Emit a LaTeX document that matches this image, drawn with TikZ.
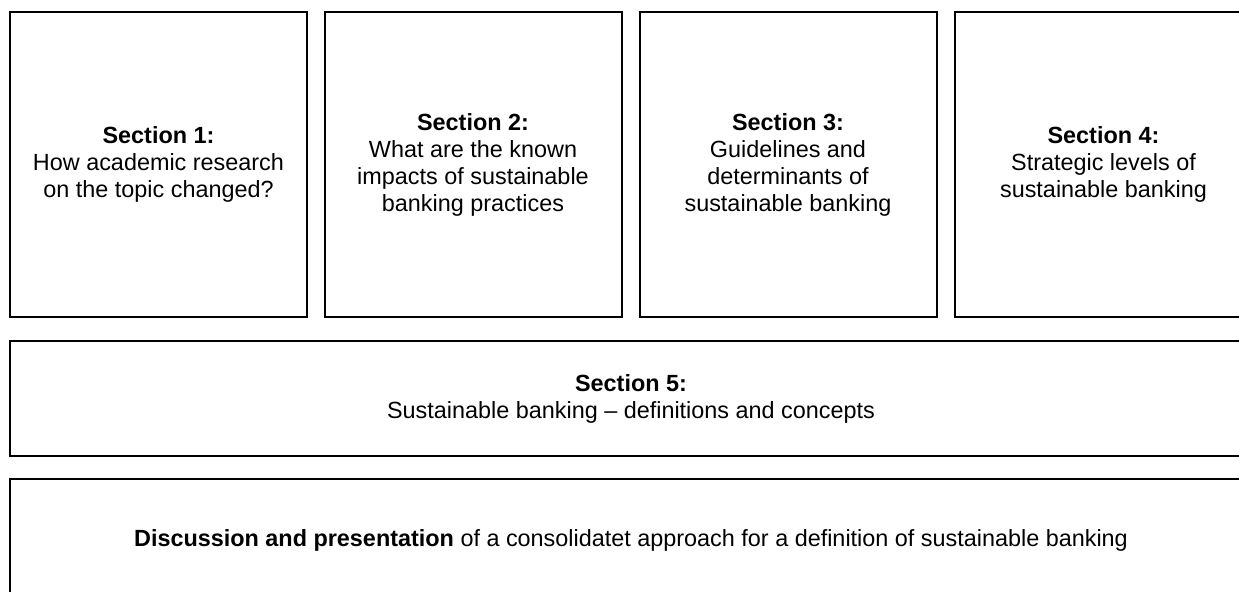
\documentclass[tikz,border=0pt]{standalone}
\usepackage{fontspec}
\setmainfont{Liberation Sans}
\usepackage{tikz}
\usetikzlibrary{positioning}

\begin{document}
\begin{tikzpicture}[x=0.5pt,y=-0.5pt,
  secbox/.style={draw,line width=1pt,inner sep=0pt,align=center,
    minimum width=148.5pt,minimum height=152.5pt,
    font=\fontsize{11.7}{13.5}\selectfont},
  widebox/.style={secbox,minimum width=621pt,minimum height=57.5pt}]
\useasboundingbox (0,0) rectangle (1239,592);
\clip (0,0) rectangle (1239,592);
\node[secbox] (s1) at (158.5,164.5) {\textbf{Section 1:}\\How academic research\\on the topic changed?};
\node[secbox] (s2) at (473,164.5) {\textbf{Section 2:}\\What are the known\\impacts of sustainable\\banking practices};
\node[secbox] (s3) at (788,164.5) {\textbf{Section 3:}\\Guidelines and\\determinants of\\sustainable banking};
\node[secbox] (s4) at (1103.5,164.5) {\textbf{Section 4:}\\Strategic levels of\\sustainable banking};
\node[widebox] (s5) at (631,398.5) {\textbf{Section 5:}\\Sustainable banking -- definitions and concepts};
\node[widebox,minimum height=61pt] (disc) at (631,540) {\textbf{Discussion and presentation} of a consolidatet approach for a definition of sustainable banking};
\end{tikzpicture}
\end{document}
